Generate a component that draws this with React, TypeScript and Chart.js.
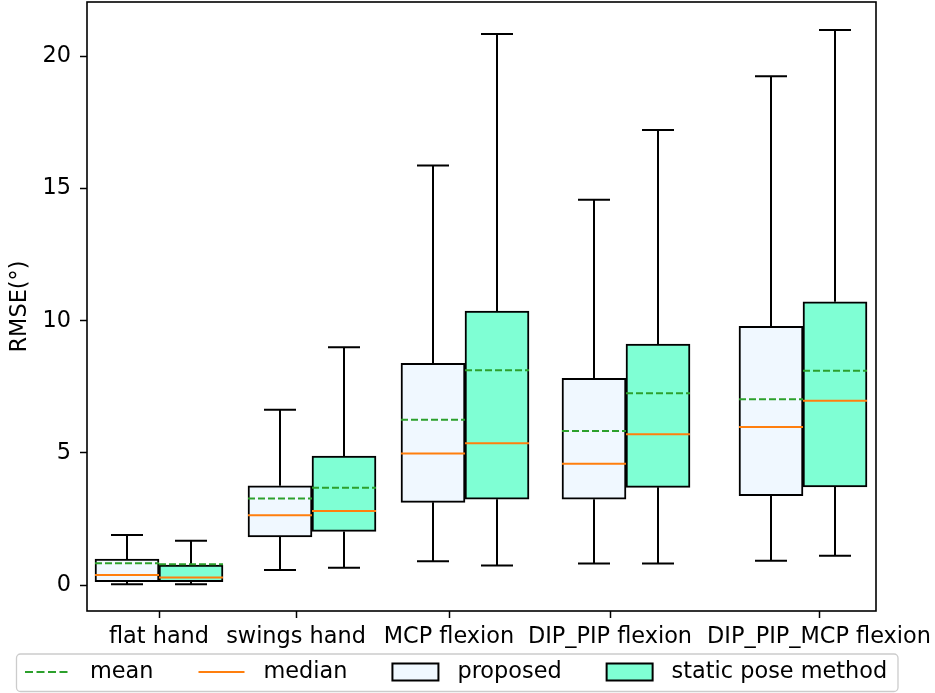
import React, { useEffect, useRef } from 'react';
import { Chart, registerables } from 'chart.js';

Chart.register(...registerables);

// ---- data ----
const categories = ['flat hand', 'swings hand', 'MCP flexion', 'DIP_PIP flexion', 'DIP_PIP_MCP flexion'];
const groupPositions = [0.72, 2.25, 3.78, 5.39, 7.16];
const tickPositions = [0.72, 2.09, 3.62, 5.23, 7.32];
const yTicks = [0, 5, 10, 15, 20];

const proposedLow = [0.03, 0.57, 0.9, 0.82, 0.92];
const proposedQ1 = [0.125, 1.82, 3.13, 3.25, 3.38];
const proposedMedian = [0.38, 2.64, 4.98, 4.59, 5.98];
const proposedQ3 = [0.98, 3.76, 8.39, 7.82, 9.79];
const proposedHigh = [1.9, 6.63, 15.87, 14.58, 19.25];
const proposedMean = [0.83, 3.28, 6.26, 5.83, 7.03];

const staticLow = [0.03, 0.66, 0.74, 0.82, 1.11];
const staticQ1 = [0.125, 2.03, 3.25, 3.7, 3.71];
const staticMedian = [0.29, 2.8, 5.37, 5.71, 6.97];
const staticQ3 = [0.76, 4.88, 10.37, 9.12, 10.72];
const staticHigh = [1.68, 9.0, 20.85, 17.22, 21.0];
const staticMean = [0.79, 3.68, 8.13, 7.26, 8.11];

const FONT_FAMILY = '"DejaVu Sans", "Liberation Sans", sans-serif';
const FONT_SIZE = 22.4;
const PROPOSED_FILL = '#F0F8FF';
const STATIC_FILL = '#7FFFD4';
const MEDIAN_COLOR = '#ff7f0e';
const MEAN_COLOR = '#2ca02c';

const seriesStats = [
  { low: proposedLow, median: proposedMedian, high: proposedHigh, mean: proposedMean, q1: proposedQ1, q3: proposedQ3 },
  { low: staticLow, median: staticMedian, high: staticHigh, mean: staticMean, q1: staticQ1, q3: staticQ3 },
];

const boxExtrasPlugin = {
  id: 'boxExtras',
  afterDatasetsDraw(chart: any) {
    const { ctx, chartArea } = chart;
    const yScale = chart.scales.y;
    ctx.save();
    seriesStats.forEach((s, di) => {
      const meta = chart.getDatasetMeta(di);
      meta.data.forEach((el: any, i: number) => {
        const cx = el.x;
        const w = el.width;
        const yLow = yScale.getPixelForValue(s.low[i]);
        const yHigh = yScale.getPixelForValue(s.high[i]);
        const yQ1 = yScale.getPixelForValue(s.q1[i]);
        const yQ3 = yScale.getPixelForValue(s.q3[i]);
        ctx.strokeStyle = '#000';
        ctx.lineWidth = 2;
        ctx.setLineDash([]);
        ctx.beginPath();
        ctx.moveTo(cx, yQ3);
        ctx.lineTo(cx, yHigh);
        ctx.moveTo(cx, yQ1);
        ctx.lineTo(cx, yLow);
        ctx.moveTo(cx - w / 4, yHigh);
        ctx.lineTo(cx + w / 4, yHigh);
        ctx.moveTo(cx - w / 4, yLow);
        ctx.lineTo(cx + w / 4, yLow);
        ctx.stroke();
      });
    });
    seriesStats.forEach((s, di) => {
      const meta = chart.getDatasetMeta(di);
      meta.data.forEach((el: any, i: number) => {
        const cx = el.x;
        const w = el.width;
        const yMed = yScale.getPixelForValue(s.median[i]);
        const yMean = yScale.getPixelForValue(s.mean[i]);
        ctx.setLineDash([]);
        ctx.strokeStyle = MEDIAN_COLOR;
        ctx.lineWidth = 2;
        ctx.beginPath();
        ctx.moveTo(cx - w / 2, yMed);
        ctx.lineTo(cx + w / 2, yMed);
        ctx.stroke();
        ctx.setLineDash([7, 3]);
        ctx.strokeStyle = MEAN_COLOR;
        ctx.beginPath();
        ctx.moveTo(cx - w / 2, yMean);
        ctx.lineTo(cx + w / 2, yMean);
        ctx.stroke();
      });
    });
    ctx.setLineDash([]);
    ctx.strokeStyle = '#000';
    ctx.lineWidth = 1.6;
    ctx.strokeRect(chartArea.left, chartArea.top, chartArea.right - chartArea.left, chartArea.bottom - chartArea.top);
    ctx.restore();
  },
  afterDraw(chart: any) {
    const { ctx } = chart;
    ctx.save();
    const fx = 16.5, fy = 654, fw = 881.5, fh = 37.5;
    ctx.beginPath();
    if (ctx.roundRect) ctx.roundRect(fx, fy, fw, fh, 4);
    else ctx.rect(fx, fy, fw, fh);
    ctx.fillStyle = 'rgba(255,255,255,0.8)';
    ctx.fill();
    ctx.strokeStyle = '#cccccc';
    ctx.lineWidth = 1.3;
    ctx.stroke();

    const items = [
      { kind: 'dash', color: MEAN_COLOR, label: 'mean' },
      { kind: 'line', color: MEDIAN_COLOR, label: 'median' },
      { kind: 'box', color: PROPOSED_FILL, label: 'proposed' },
      { kind: 'box', color: STATIC_FILL, label: 'static pose method' },
    ];
    ctx.font = `${FONT_SIZE}px ${FONT_FAMILY}`;
    ctx.textBaseline = 'middle';
    ctx.textAlign = 'left';
    const cy = 672;
    let x = 25;
    const handle = 46;
    items.forEach((it) => {
      if (it.kind === 'box') {
        ctx.setLineDash([]);
        ctx.fillStyle = it.color;
        ctx.fillRect(x, cy - 8.5, handle, 17);
        ctx.strokeStyle = '#000';
        ctx.lineWidth = 2;
        ctx.strokeRect(x, cy - 8.5, handle, 17);
      } else {
        ctx.setLineDash(it.kind === 'dash' ? [8, 3.5] : []);
        ctx.strokeStyle = it.color;
        ctx.lineWidth = 2;
        ctx.beginPath();
        ctx.moveTo(x, cy);
        ctx.lineTo(x + handle, cy);
        ctx.stroke();
      }
      ctx.setLineDash([]);
      ctx.fillStyle = '#000';
      const tx = x + handle + 19;
      ctx.fillText(it.label, tx, cy);
      x = tx + ctx.measureText(it.label).width + 45;
    });
    ctx.restore();
  },
};

const zeroPadding = (s: any) => {
  s.paddingTop = 0;
  s.paddingBottom = 0;
  s.paddingLeft = 0;
  s.paddingRight = 0;
};

export default function App() {
  const canvasRef = useRef<HTMLCanvasElement | null>(null);

  useEffect(() => {
    if (!canvasRef.current) return;
    const font = { family: FONT_FAMILY, size: FONT_SIZE };
    const chart = new Chart(canvasRef.current, {
      type: 'bar',
      data: {
        datasets: [
          {
            label: 'proposed',
            data: groupPositions.map((x, i) => ({ x, y: [proposedQ1[i], proposedQ3[i]] })) as any,
            backgroundColor: PROPOSED_FILL,
            borderColor: '#000',
            borderWidth: 2,
            borderSkipped: false,
            barThickness: 64,
          },
          {
            label: 'static pose method',
            data: groupPositions.map((x, i) => ({ x, y: [staticQ1[i], staticQ3[i]] })) as any,
            backgroundColor: STATIC_FILL,
            borderColor: '#000',
            borderWidth: 2,
            borderSkipped: false,
            barThickness: 64,
          },
        ],
      },
      options: {
        responsive: false,
        animation: false,
        layout: { padding: { left: 0, right: 59, top: 2, bottom: 42 } },
        plugins: { legend: { display: false }, tooltip: { enabled: false } },
        scales: {
          x: {
            type: 'linear',
            min: 0,
            max: 7.89,
            offset: false,
            afterBuildTicks: (s: any) => {
              s.ticks = tickPositions.map((v) => ({ value: v }));
            },
            afterFit: (s: any) => {
              s.height = 40;
              zeroPadding(s);
            },
            ticks: {
              font,
              color: '#000',
              padding: 6,
              maxRotation: 0,
              autoSkip: false,
              callback: (_v: any, i: number) => categories[i],
            },
            grid: { display: true, offset: false, drawOnChartArea: false, drawTicks: true, tickLength: 7, color: '#000', tickWidth: 1.5 },
            border: { display: false },
          },
          y: {
            type: 'linear',
            min: -0.98,
            max: 22.06,
            afterBuildTicks: (s: any) => {
              s.ticks = yTicks.map((v) => ({ value: v }));
            },
            afterFit: (s: any) => {
              s.width = 87;
              zeroPadding(s);
            },
            ticks: { font, color: '#000', padding: 9 },
            grid: { display: true, offset: false, drawOnChartArea: false, drawTicks: true, tickLength: 7, color: '#000', tickWidth: 1.5 },
            border: { display: false },
            title: { display: true, text: 'RMSE(°)', font, color: '#000', padding: { top: 7, bottom: 0 } },
          },
        },
      } as any,
      plugins: [boxExtrasPlugin],
    });
    return () => chart.destroy();
  }, []);

  return (
    <div style={{ position: 'absolute', left: 0, top: 0, width: 935, height: 693, background: '#fff' }}>
      <canvas ref={canvasRef} width={935} height={693} style={{ display: 'block' }} />
    </div>
  );
}
